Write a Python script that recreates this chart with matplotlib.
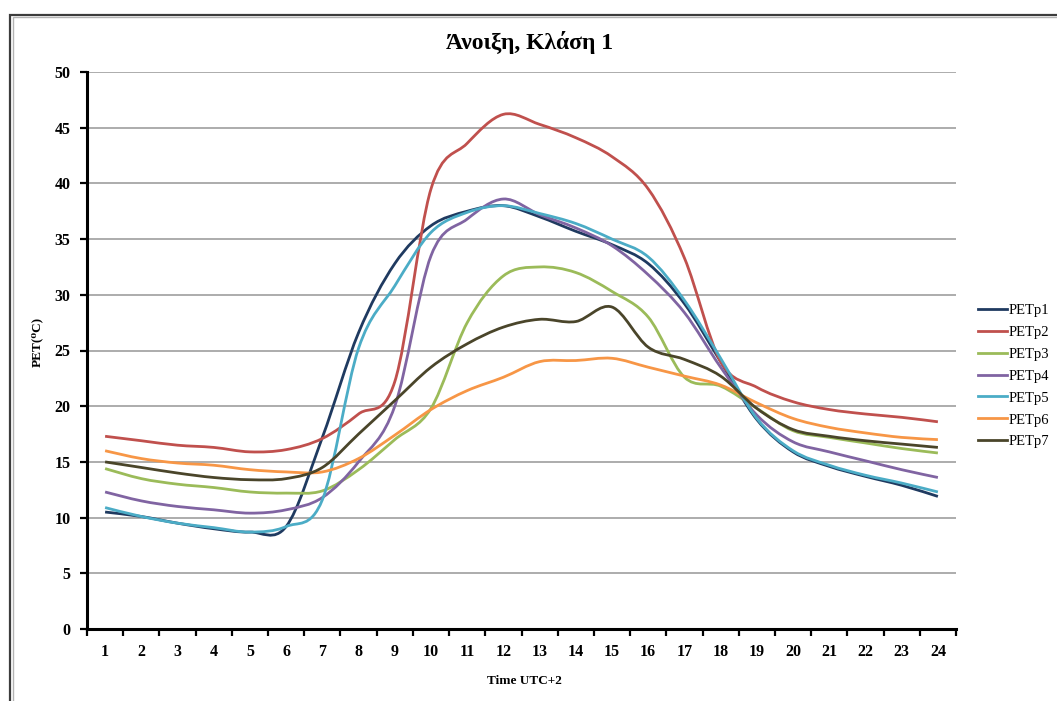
import numpy as np
import matplotlib
matplotlib.use("Agg")
import matplotlib.pyplot as plt
from matplotlib.path import Path
from matplotlib.patches import PathPatch, Rectangle
from matplotlib.lines import Line2D

# ---- data -------------------------------------------------------------
hours = list(range(1, 25))
series_names = ["PETp1", "PETp2", "PETp3", "PETp4", "PETp5", "PETp6", "PETp7"]

pet_p1 = [10.5, 10.1, 9.5, 9.0, 8.7, 9.2, 17.2, 26.6, 32.8, 36.2, 37.5, 38.0,
          37.0, 35.7, 34.5, 32.8, 29.2, 24.0, 18.8, 15.9, 14.6, 13.7, 12.9, 11.9]
pet_p2 = [17.3, 16.9, 16.5, 16.3, 15.9, 16.1, 17.1, 19.3, 22.2, 39.5, 43.6, 46.2,
          45.3, 44.1, 42.4, 39.5, 33.3, 24.0, 21.7, 20.4, 19.7, 19.3, 19.0, 18.6]
pet_p3 = [14.4, 13.5, 13.0, 12.7, 12.3, 12.2, 12.4, 14.3, 17.0, 19.8, 27.5, 31.7,
          32.5, 32.0, 30.3, 28.0, 22.6, 21.8, 19.8, 17.8, 17.2, 16.7, 16.2, 15.8]
pet_p4 = [12.3, 11.5, 11.0, 10.7, 10.4, 10.7, 11.8, 15.0, 20.0, 33.5, 36.8, 38.6,
          37.2, 36.0, 34.4, 31.8, 28.4, 23.5, 19.2, 16.8, 15.9, 15.1, 14.3, 13.6]
pet_p5 = [10.9, 10.1, 9.5, 9.1, 8.7, 9.2, 11.6, 25.2, 30.8, 35.6, 37.4, 38.0,
          37.3, 36.4, 35.0, 33.4, 29.5, 24.3, 18.9, 16.0, 14.7, 13.8, 13.1, 12.3]
pet_p6 = [16.0, 15.3, 14.9, 14.7, 14.3, 14.1, 14.1, 15.3, 17.4, 19.7, 21.4, 22.6,
          24.0, 24.1, 24.3, 23.5, 22.7, 21.9, 20.3, 18.9, 18.1, 17.6, 17.2, 17.0]
pet_p7 = [15.0, 14.5, 14.0, 13.6, 13.4, 13.5, 14.5, 17.5, 20.5, 23.5, 25.6, 27.1,
          27.8, 27.6, 28.9, 25.3, 24.2, 22.7, 19.8, 17.9, 17.3, 16.9, 16.6, 16.3]

all_series = [pet_p1, pet_p2, pet_p3, pet_p4, pet_p5, pet_p6, pet_p7]
colors = ["#1f3a60", "#c0504d", "#9bbb59", "#8064a2", "#4bacc6", "#f79646", "#4a452a"]

y_ticks = list(range(0, 51, 5))

# ---- style ------------------------------------------------------------
plt.rcParams["font.family"] = ["Liberation Serif", "DejaVu Serif"]


def smooth_path(x, y):
    """Cubic Bezier path through the points (Catmull-Rom style smoothing)."""
    pts = np.column_stack([x, y]).astype(float)
    n = len(pts)
    verts = [pts[0]]
    codes = [Path.MOVETO]
    for i in range(n - 1):
        p0 = pts[max(i - 1, 0)]
        p1 = pts[i]
        p2 = pts[i + 1]
        p3 = pts[min(i + 2, n - 1)]
        c1 = p1 + (p2 - p0) / 6.0
        c2 = p2 - (p3 - p1) / 6.0
        verts += [c1, c2, p2]
        codes += [Path.CURVE4] * 3
    return Path(verts, codes)


W, H = 1057, 701
fig = plt.figure(figsize=(W / 100, H / 100), dpi=100)
fig.patch.set_facecolor("white")

# outer chart frame (continues past the right and bottom edges)
fig.add_artist(Rectangle((10 / W, -0.05), 1.05, 1.05 - 15 / H,
                         transform=fig.transFigure, fill=False,
                         edgecolor="#3c3c3c", linewidth=1.6))
fig.add_artist(Rectangle((12.5 / W, -0.05), 1.05, 1.05 - 17.5 / H,
                         transform=fig.transFigure, fill=False,
                         edgecolor="#b4b4b4", linewidth=1.0))

ax = fig.add_axes([87 / W, 1 - 629 / H, (956 - 87) / W, (629 - 72) / H])

for vals, col in zip(all_series, colors):
    ax.add_patch(PathPatch(smooth_path(hours, vals), fill=False,
                           edgecolor=col, linewidth=2.0, capstyle="butt",
                           joinstyle="round", zorder=3))

ax.set_xlim(0.5, 24.5)
ax.set_ylim(0, 50)

# y axis
ax.set_yticks(y_ticks)
ax.set_yticklabels([str(v) for v in y_ticks], fontsize=11.5, fontweight="bold")
ax.tick_params(axis="y", direction="out", length=5, width=1.6, pad=7)
ax.yaxis.grid(True, color="#a6a6a6", linewidth=1.3, zorder=0)
ax.set_axisbelow(True)

# x axis: tick marks between categories, labels centred on categories
ax.set_xticks(np.arange(0.5, 25.0, 1.0))
ax.set_xticklabels([])
ax.set_xticks(hours, minor=True)
ax.set_xticklabels([str(h) for h in hours], minor=True,
                   fontsize=11.5, fontweight="bold")
ax.tick_params(axis="x", which="major", direction="out", length=5, width=1.6)
ax.tick_params(axis="x", which="minor", length=0, pad=11)

for side in ("top", "right"):
    ax.spines[side].set_visible(False)
for side in ("left", "bottom"):
    ax.spines[side].set_linewidth(2.2)
    ax.spines[side].set_color("black")

# texts
fig.text(530 / W, 1 - 43 / H, "Άνοιξη, Κλάση 1", ha="center", va="center",
         fontsize=17, fontweight="bold")
fig.text(524 / W, 1 - 681 / H, "Time UTC+2", ha="center", va="center",
         fontsize=9.5, fontweight="bold")
fig.text(37 / W, 1 - 342 / H, "PET(⁰C)", ha="center", va="center",
         rotation=90, fontsize=9.5, fontweight="bold")

# legend
handles = [Line2D([0], [0], color=c, linewidth=2.0) for c in colors]
fig.legend(handles, series_names, loc="center left",
           bbox_to_anchor=(978 / W, 1 - 376 / H), frameon=False,
           fontsize=10.5, handlelength=2.0, handletextpad=0.12,
           labelspacing=0.6, borderaxespad=0, borderpad=0)

fig.savefig("out.png", dpi=100, facecolor="white")
